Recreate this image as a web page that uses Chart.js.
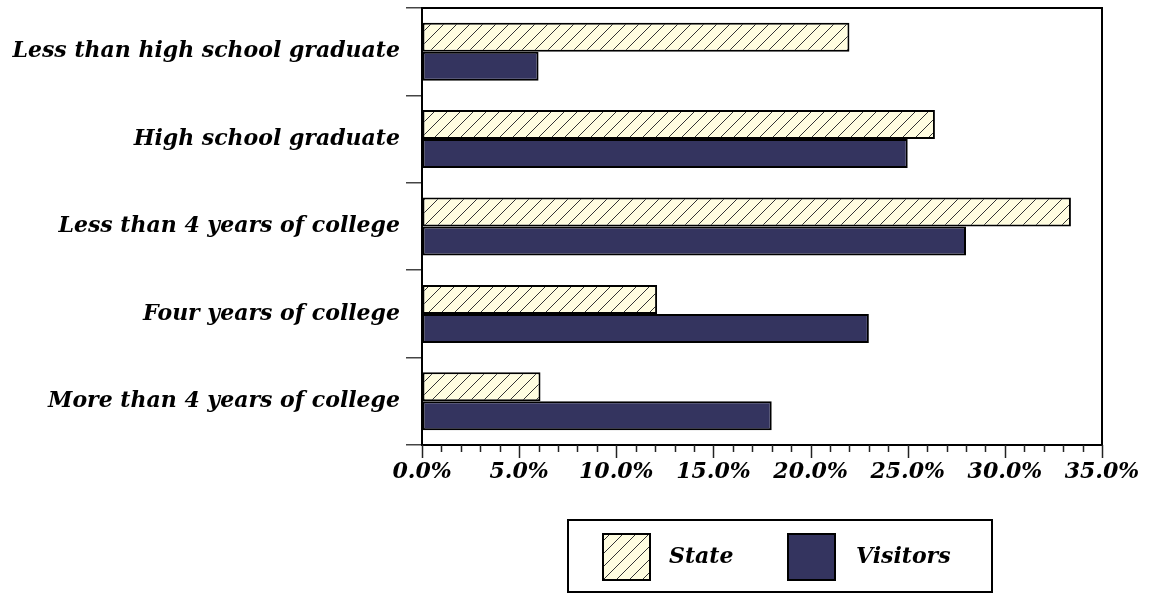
<!DOCTYPE html>
<html>
<head>
<meta charset="utf-8">
<script src="https://cdn.jsdelivr.net/npm/chart.js@4/dist/chart.umd.min.js"></script>
<style>
    html, body { margin: 0; padding: 0; background: #fff; }
</style>
</head>
<body>
<canvas id="grafico" width="1151" height="594"></canvas>
<script>
const categorias = [
    'Less than high school graduate',
    'High school graduate',
    'Less than 4 years of college',
    'Four years of college',
    'More than 4 years of college'
];
const nomesSeries = ['State', 'Visitors'];
const valoresState = [22.0, 26.4, 33.4, 12.1, 6.1];
const valoresVisitors = [6.0, 25.0, 28.0, 23.0, 18.0];
const ticksPrincipais = [0, 5, 10, 15, 20, 25, 30, 35];

const fonte = { family: '"DejaVu Serif", serif', size: 22, style: 'italic', weight: 'bold' };

const ctx = document.getElementById('grafico').getContext('2d');

function criarHachura() {
    const c = document.createElement('canvas');
    c.width = 13; c.height = 13;
    const g = c.getContext('2d');
    g.fillStyle = '#FFFDE0';
    g.fillRect(0, 0, 13, 13);
    g.strokeStyle = '#333';
    g.lineWidth = 1;
    g.beginPath();
    g.moveTo(-2, 15);
    g.lineTo(15, -2);
    g.stroke();
    return ctx.createPattern(c, 'repeat');
}

const hachura = criarHachura();
const corVisitors = '#34345F';

// moldura do grafico e marcas do eixo x
const moldura = {
    id: 'moldura',
    afterDraw(chart) {
        const a = chart.chartArea;
        const c = chart.ctx;
        c.save();
        c.strokeStyle = '#000';
        c.lineWidth = 2;
        c.strokeRect(a.left, a.top, a.right - a.left, a.bottom - a.top);

        const x = chart.scales.x;
        c.lineWidth = 1.5;
        c.strokeStyle = '#222';
        for (let v = 0; v <= 35; v++) {
            const px = Math.round(x.getPixelForValue(v)) + 0.5;
            const len = ticksPrincipais.includes(v) ? 13 : 7;
            c.beginPath();
            c.moveTo(px, a.bottom);
            c.lineTo(px, a.bottom + len);
            c.stroke();
        }
        c.restore();
    }
};

// legenda com caixa
const legenda = {
    id: 'legenda',
    afterDraw(chart) {
        const c = chart.ctx;
        const ds = chart.data.datasets;
        c.save();
        c.strokeStyle = '#000';
        c.lineWidth = 2;
        c.strokeRect(568, 520, 424, 72);

        const itens = [
            { x: 603, tx: 669 },
            { x: 788, tx: 856 }
        ];
        itens.forEach((it, i) => {
            c.fillStyle = ds[i].backgroundColor;
            c.fillRect(it.x, 534, 47, 46);
            c.lineWidth = 2;
            c.strokeStyle = '#000';
            c.strokeRect(it.x, 534, 47, 46);
            c.fillStyle = '#000';
            c.font = 'italic bold 22px "DejaVu Serif", serif';
            c.textBaseline = 'middle';
            c.fillText(ds[i].label, it.tx, 557);
        });
        c.restore();
    }
};

new Chart(ctx, {
    type: 'bar',
    data: {
        labels: categorias,
        datasets: [
            {
                label: nomesSeries[0],
                data: valoresState,
                backgroundColor: hachura,
                borderColor: '#000',
                borderWidth: 2,
                borderSkipped: false
            },
            {
                label: nomesSeries[1],
                data: valoresVisitors,
                backgroundColor: corVisitors,
                borderColor: '#000',
                borderWidth: 2,
                borderSkipped: false
            }
        ]
    },
    options: {
        indexAxis: 'y',
        responsive: false,
        animation: false,
        datasets: {
            bar: { categoryPercentage: 0.664, barPercentage: 1.0 }
        },
        layout: { padding: { left: 0, right: 49, top: 8, bottom: 0 } },
        plugins: {
            legend: { display: false },
            tooltip: { enabled: false }
        },
        scales: {
            y: {
                grid: {
                    offset: true,
                    drawOnChartArea: false,
                    drawTicks: true,
                    tickLength: 16,
                    color: '#444',
                    lineWidth: 1.5
                },
                border: { color: '#000', width: 2 },
                ticks: { font: fonte, color: '#000', padding: 6 },
                afterFit: (s) => { s.width = 422; s.paddingTop = 0; s.paddingBottom = 0; }
            },
            x: {
                min: 0,
                max: 35,
                grid: { drawOnChartArea: false, drawTicks: false },
                border: { color: '#000', width: 2 },
                ticks: {
                    stepSize: 1,
                    autoSkip: false,
                    maxRotation: 0,
                    padding: 14,
                    font: fonte,
                    color: '#000',
                    callback: (v) => ticksPrincipais.includes(v) ? v.toFixed(1) + '%' : ''
                },
                afterFit: (s) => { s.height = 149; s.paddingRight = 0; }
            }
        }
    },
    plugins: [moldura, legenda]
});
</script>
</body>
</html>
